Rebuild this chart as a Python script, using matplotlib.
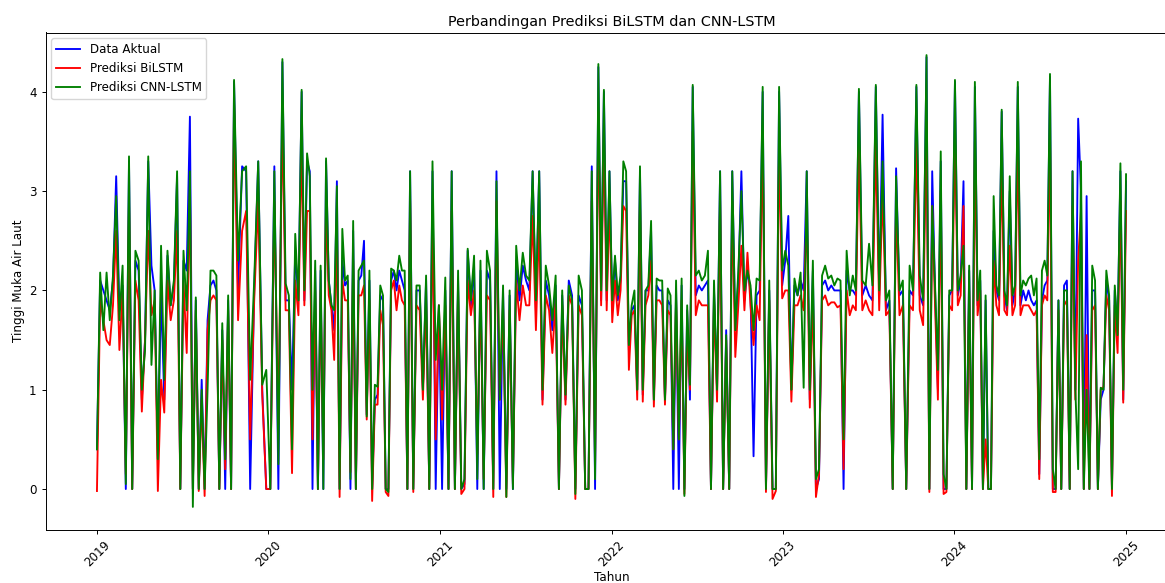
import matplotlib
matplotlib.use("Agg")
import matplotlib.pyplot as plt
import matplotlib.dates as mdates
import numpy as np
import pandas as pd

# gambar asli tampaknya diperkecil, jadi semua ukuran sedikit lebih kecil
plt.rcParams.update({
    "font.size": 8.6,
    "lines.linewidth": 1.35,
    "axes.linewidth": 0.7,
    "xtick.major.size": 3.0,
    "ytick.major.size": 3.0,
    "xtick.major.width": 0.7,
    "ytick.major.width": 0.7,
})

# nilai (2019-01 s/d 2025-01)
aktual = [
    0.4, 2.1, 2.0, 1.9, 1.8, 2.1, 3.15, 1.8, 2.05, 0.0, 3.3, 0.0, 2.3, 2.2, 0.9, 1.5, 3.3, 2.25, 2.0, 0.3,
    2.0, 0.9, 2.35, 1.85, 2.05, 3.15, 0.0, 2.3, 2.2, 3.75, 0.0, 1.9, 0.0, 1.1, 0.0, 1.7, 2.05, 2.1, 2.0, 0.0,
    1.6, 0.0, 1.9, 0.0, 4.1, 2.0, 3.25, 3.2, 0.0, 2.0, 3.3, 1.0, 0.0, 0.0, 3.25, 0.0, 4.3, 1.9, 1.9, 1.0,
    2.4, 1.9, 4.0, 1.9, 3.3, 3.2, 0.0, 2.2, 0.0, 2.2, 0.0, 3.3, 2.1, 1.85, 1.6, 3.1, 0.0, 2.3, 2.05, 2.1,
    0.0, 2.6, 0.0, 2.1, 2.15, 2.5, 0.75, 2.1, 0.0, 0.9, 0.95, 1.95, 1.9, 0.0, 0.0, 2.1, 2.2, 2.0, 2.2, 2.1,
    2.0, 0.0, 3.2, 0.0, 2.0, 2.0, 1.0, 2.1, 0.0, 3.2, 0.0, 1.85, 0.0, 2.0, 0.0, 3.2, 0.0, 2.1, 0.0, 0.05,
    2.4, 1.85, 2.25, 0.0, 2.2, 0.0, 2.2, 2.1, 0.0, 3.2, 0.0, 2.0, 0.0, 1.95, 0.0, 2.3, 1.9, 2.25, 2.1, 2.0,
    3.2, 1.8, 3.2, 0.9, 2.1, 1.95, 1.6, 2.05, 0.0, 1.95, 0.9, 2.1, 1.95, 0.0, 1.95, 1.85, 0.0, 0.0, 3.25, 0.0,
    4.25, 1.9, 4.0, 1.9, 3.2, 1.85, 2.3, 1.9, 2.1, 3.1, 3.1, 1.4, 1.8, 1.85, 1.0, 3.2, 0.95, 2.0, 2.0, 2.6,
    0.9, 2.05, 2.0, 2.0, 0.9, 1.9, 1.85, 0.0, 2.0, 0.0, 2.05, 0.0, 1.8, 0.9, 4.05, 1.95, 2.05, 2.0, 2.05, 2.1,
    0.0, 2.0, 1.0, 3.2, 0.0, 1.6, 0.0, 3.2, 1.6, 2.1, 3.2, 1.9, 2.2, 2.0, 0.33, 1.95, 2.0, 4.0, 0.0, 2.0,
    0.0, 0.0, 4.0, 2.05, 2.3, 2.75, 1.0, 2.05, 1.95, 2.1, 2.0, 3.2, 0.9, 2.2, 0.0, 0.1, 2.05, 2.1, 2.0, 2.05,
    2.0, 2.0, 2.0, 0.0, 2.2, 2.0, 2.0, 1.95, 4.0, 1.95, 2.05, 1.95, 1.9, 4.05, 1.95, 3.77, 1.8, 1.9, 0.0, 3.23,
    1.95, 2.0, 0.0, 2.0, 1.95, 4.05, 1.95, 1.85, 4.35, 0.0, 3.2, 2.0, 1.0, 3.3, 0.0, 0.0, 1.95, 2.0, 4.1, 1.95,
    2.1, 3.1, 0.0, 2.2, 0.0, 4.05, 1.85, 2.1, 0.0, 1.9, 0.0, 0.0, 2.6, 2.0, 1.9, 3.8, 1.95, 1.8, 3.0, 1.85,
    2.0, 4.05, 1.85, 2.0, 1.9, 2.0, 1.9, 1.85, 1.9, 0.15, 1.9, 2.05, 2.1, 4.15, 0.0, 0.0, 1.9, 0.0, 2.05, 2.1,
    0.0, 3.2, 1.0, 3.73, 3.0, 0.0, 2.95, 0.0, 2.0, 2.0, 0.0, 0.9, 1.0, 2.1, 1.9, 0.0, 2.0, 1.6, 3.2, 0.9,
    3.1,
]

bilstm = [
    -0.02, 1.9, 1.7, 1.5, 1.45, 1.85, 2.6, 1.4, 2.0, 0.15, 2.9, 0.0, 2.1, 1.9, 0.78, 1.5, 2.6, 1.75, 1.9, -0.02,
    1.1, 0.77, 2.1, 1.7, 1.9, 2.6, 0.0, 2.1, 1.37, 3.0, 0.0, 1.8, -0.02, 0.9, -0.07, 1.6, 1.9, 1.95, 1.9, 0.0,
    1.5, 0.2, 1.8, 0.0, 3.9, 1.7, 2.6, 2.8, 0.5, 1.9, 2.9, 0.95, 0.0, 0.0, 2.9, 0.65, 3.8, 1.8, 1.8, 0.16,
    2.1, 1.75, 3.5, 1.85, 2.8, 2.8, 0.5, 2.0, 0.0, 2.0, 0.3, 2.9, 1.95, 1.8, 1.3, 2.7, -0.08, 2.1, 1.9, 1.9,
    0.17, 2.3, 0.0, 1.95, 1.95, 2.05, 0.7, 1.9, -0.12, 0.85, 0.85, 1.8, 1.65, -0.03, -0.07, 2.0, 2.1, 1.8, 2.05, 1.9,
    1.85, 0.0, 2.9, -0.03, 1.85, 1.8, 0.9, 1.9, 0.0, 2.8, 0.5, 1.85, 0.7, 1.85, 0.0, 2.8, 0.0, 2.0, -0.05, 0.0,
    2.1, 1.75, 2.0, 0.35, 2.0, 0.1, 1.95, 1.9, -0.08, 2.9, 0.9, 1.85, -0.08, 1.8, 0.05, 2.1, 1.7, 2.05, 1.85, 1.85,
    2.75, 1.6, 2.7, 0.85, 1.95, 1.8, 1.37, 1.9, 0.0, 1.85, 0.85, 1.95, 1.85, -0.1, 1.85, 1.75, 0.0, 0.0, 2.9, 0.25,
    3.8, 1.85, 3.6, 1.8, 2.9, 1.68, 2.1, 1.75, 2.0, 2.85, 2.8, 1.2, 1.75, 1.8, 0.9, 2.9, 0.88, 1.85, 1.95, 2.3,
    0.83, 1.9, 1.9, 1.85, 0.85, 1.8, 1.75, 0.4, 1.9, 0.5, 1.9, -0.05, 1.6, 1.0, 3.6, 1.75, 1.9, 1.85, 1.85, 1.85,
    0.0, 1.9, 0.88, 2.9, 0.0, 1.5, 0.0, 2.9, 1.33, 1.85, 2.45, 1.8, 2.38, 1.85, 1.45, 1.85, 1.7, 3.6, -0.03, 1.9,
    -0.1, -0.02, 3.5, 1.92, 2.0, 2.0, 0.88, 1.85, 1.85, 1.95, 1.8, 2.8, 0.82, 2.0, -0.08, 0.15, 1.9, 1.95, 1.85, 1.88,
    1.88, 1.83, 1.85, 0.2, 2.0, 1.75, 1.85, 1.8, 3.5, 1.8, 1.9, 1.8, 1.75, 3.5, 1.8, 3.0, 1.75, 1.8, 0.0, 2.9,
    1.75, 1.85, 0.0, 1.85, 1.8, 3.5, 1.8, 1.65, 3.7, -0.03, 2.85, 1.85, 0.9, 3.0, -0.05, -0.03, 1.85, 1.8, 3.6, 1.85,
    1.95, 2.85, 0.0, 2.0, 0.0, 3.5, 1.75, 2.0, 0.0, 0.5, 0.0, 0.0, 2.3, 1.85, 1.75, 3.3, 1.8, 1.75, 2.45, 1.75,
    1.85, 3.5, 1.75, 1.85, 1.85, 1.85, 1.8, 1.75, 1.8, 0.1, 1.85, 1.95, 1.9, 3.6, -0.03, -0.03, 1.8, 0.0, 1.85, 1.9,
    0.0, 2.85, 0.9, 2.3, 2.8, 0.0, 1.55, 0.0, 1.8, 1.85, 0.0, 1.0, 1.03, 1.95, 1.8, -0.07, 1.85, 1.37, 2.9, 0.87,
    2.8,
]

cnn_lstm = [
    0.4, 2.18, 1.6, 2.18, 1.7, 2.15, 2.95, 1.7, 2.25, 0.05, 3.35, 0.0, 2.4, 2.3, 1.0, 1.4, 3.35, 1.25, 2.0, 0.3,
    2.45, 1.1, 2.4, 1.85, 2.1, 3.2, 0.0, 2.4, 1.8, 3.2, -0.18, 1.93, 0.0, 1.0, 0.0, 1.0, 2.2, 2.2, 2.15, 0.0,
    1.67, 0.3, 1.95, 0.0, 4.12, 2.3, 3.2, 3.25, 1.1, 2.1, 3.3, 1.05, 1.2, 0.0, 3.2, 0.25, 4.33, 2.07, 1.95, 0.4,
    2.57, 1.9, 4.02, 2.0, 3.38, 3.15, 1.0, 2.3, 0.0, 2.25, 0.0, 3.33, 2.1, 1.85, 1.8, 3.05, 0.0, 2.62, 2.1, 2.15,
    0.1, 2.7, 0.0, 2.2, 2.25, 2.3, 0.73, 2.2, 0.0, 1.05, 1.03, 2.05, 1.95, 0.0, -0.03, 2.22, 2.2, 2.1, 2.35, 2.2,
    2.2, 0.0, 3.2, 0.0, 2.05, 2.05, 1.0, 2.15, 0.0, 3.3, 1.3, 1.85, 1.0, 2.13, 0.0, 3.2, 0.0, 2.2, 0.0, 0.1,
    2.42, 1.9, 2.35, 0.1, 2.3, 0.0, 2.4, 2.2, 0.0, 3.1, 0.9, 2.05, -0.08, 2.0, 0.0, 2.45, 2.0, 2.38, 2.15, 2.1,
    3.2, 1.9, 3.2, 1.0, 2.25, 2.05, 1.7, 2.15, 0.0, 2.0, 0.95, 2.05, 1.9, -0.05, 2.15, 2.0, 0.0, 0.0, 3.2, 0.1,
    4.28, 2.0, 4.02, 2.0, 3.2, 1.9, 2.35, 1.95, 2.15, 3.3, 3.2, 1.45, 1.85, 2.0, 1.0, 3.25, 1.0, 2.0, 2.05, 2.7,
    0.9, 2.12, 2.1, 2.1, 0.9, 2.02, 1.95, 0.4, 2.1, 0.5, 2.12, -0.07, 1.85, 1.05, 4.07, 2.15, 2.2, 2.1, 2.15, 2.4,
    0.0, 2.1, 1.0, 3.2, 0.0, 1.55, 0.0, 3.2, 1.6, 2.2, 3.0, 2.0, 2.2, 2.05, 1.6, 2.12, 2.1, 4.05, 0.0, 2.1,
    0.0, 0.0, 4.05, 2.2, 2.4, 2.25, 1.0, 2.12, 1.95, 2.18, 1.02, 3.2, 1.0, 2.3, 0.1, 0.2, 2.15, 2.25, 2.12, 2.15,
    2.05, 2.12, 2.1, 0.5, 2.4, 1.95, 2.15, 2.0, 4.03, 2.1, 2.05, 2.47, 2.05, 4.07, 2.0, 3.3, 1.9, 2.0, 0.0, 3.15,
    2.0, 2.1, 0.0, 2.25, 2.0, 4.07, 2.15, 1.9, 4.37, 0.0, 2.85, 2.05, 1.2, 3.4, 0.15, 0.0, 2.0, 2.0, 4.12, 2.0,
    2.15, 2.45, 0.0, 2.25, 0.0, 4.1, 1.9, 2.2, 0.0, 1.95, 0.0, 0.0, 2.95, 2.05, 1.95, 3.82, 2.0, 1.85, 3.15, 1.95,
    2.05, 4.1, 1.95, 2.1, 2.05, 2.12, 2.15, 1.95, 2.12, 0.3, 2.2, 2.3, 2.15, 4.18, 0.2, 0.0, 1.9, 0.0, 2.0, 2.0,
    0.0, 3.2, 1.0, 0.2, 3.3, 0.0, 1.0, 0.0, 2.25, 2.1, 0.0, 1.02, 1.0, 2.2, 1.95, 0.0, 2.05, 1.55, 3.28, 1.0,
    3.17,
]

# tanggal beberapa puncak yang dibaca dari grafik, dipakai sebagai penanda waktu
penanda_indeks = [0, 29, 44, 56, 62, 102, 129, 160, 194, 217, 222, 248, 253, 268, 285, 313, 340]
penanda_tanggal = [
    "2019-01-01", "2019-07-18", "2019-10-20", "2020-01-31", "2020-03-12", "2020-10-29",
    "2021-05-01", "2021-12-04", "2022-06-23", "2022-11-19", "2022-12-24", "2023-06-12",
    "2023-07-18", "2023-11-03", "2024-02-14", "2024-07-23", "2025-01-01",
]

penanda_num = mdates.date2num(pd.to_datetime(penanda_tanggal))
tanggal = mdates.num2date(np.interp(np.arange(len(aktual)), penanda_indeks, penanda_num))

fig = plt.figure(figsize=(11.65, 5.83), dpi=100)
ax = fig.add_axes([45.5 / 1165, 53.5 / 583, 1132 / 1165, 497 / 583])

ax.plot(tanggal, aktual, color="blue", label="Data Aktual")
ax.plot(tanggal, bilstm, color="red", label="Prediksi BiLSTM")
ax.plot(tanggal, cnn_lstm, color="green", label="Prediksi CNN-LSTM")

ax.xaxis.set_major_locator(mdates.YearLocator())
ax.xaxis.set_major_formatter(mdates.DateFormatter("%Y"))
plt.setp(ax.get_xticklabels(), rotation=45)

ax.set_title("Perbandingan Prediksi BiLSTM dan CNN-LSTM", pad=5)
ax.set_xlabel("Tahun", labelpad=1)
ax.set_ylabel("Tinggi Muka Air Laut", labelpad=3)
ax.legend(loc="upper left")

fig.savefig("out.png", dpi=100)
